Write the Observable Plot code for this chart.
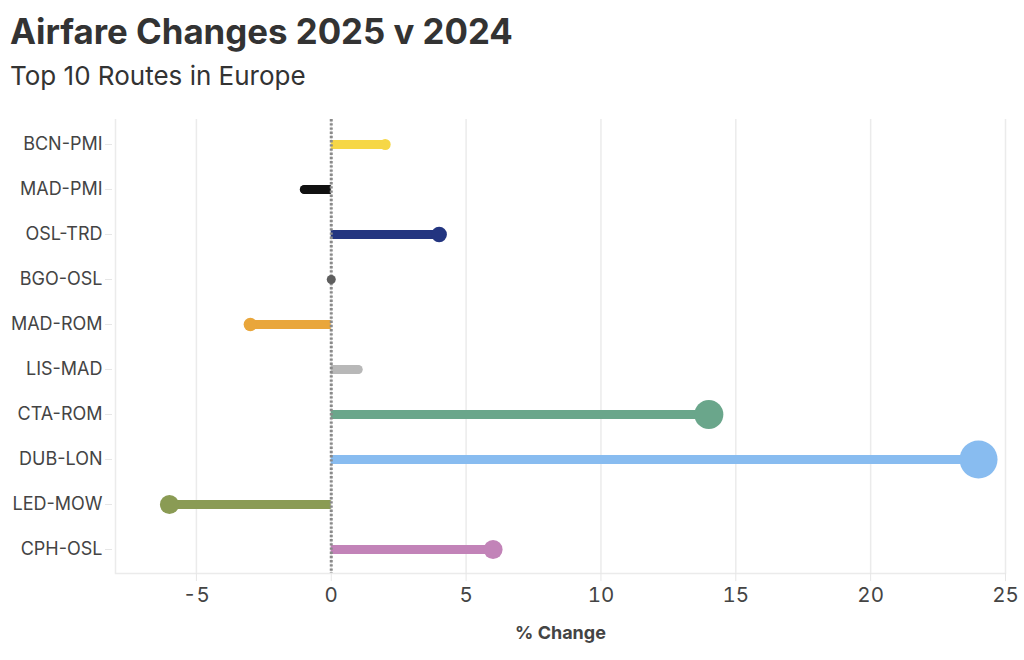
<!DOCTYPE html>
<html>
<head>
<meta charset="utf-8">
<script src="https://cdn.jsdelivr.net/npm/d3@7"></script>
<script src="https://cdn.jsdelivr.net/npm/@observablehq/plot@0.6"></script>
<style>
  html, body { margin: 0; padding: 0; background: #fff; }
  body { width: 1024px; height: 660px; overflow: hidden; font-family: Inter, "Noto Sans", sans-serif; }
  #head { height: 98px; position: relative; }
  #title { position: absolute; left: 10px; top: 11px; font-size: 34.8px; font-weight: 700; color: #333; line-height: 1.2; }
  #subtitle { position: absolute; left: 10px; top: 60px; font-size: 26px; font-weight: 400; color: #333; line-height: 1.2; }
  #chart svg { display: block; }
</style>
</head>
<body>
<div id="head">
  <div id="title">Airfare Changes 2025 v 2024</div>
  <div id="subtitle">Top 10 Routes in Europe</div>
</div>
<div id="chart"></div>
<script>
const routes = ["BCN-PMI", "MAD-PMI", "OSL-TRD", "BGO-OSL", "MAD-ROM", "LIS-MAD", "CTA-ROM", "DUB-LON", "LED-MOW", "CPH-OSL"];
const changes = [2, -1, 4, 0, -3, 1, 14, 24, -6, 6];
const routeColors = ["#f6d746", "#111111", "#233580", "#5e5e5e", "#e9a63b", "#b8b8b8", "#6aa68b", "#88bcf0", "#8a9b54", "#c283b8"];
const xTicks = [-5, 0, 5, 10, 15, 20, 25];

const data = routes.map((route, i) => ({route, value: changes[i]}));

const chart = Plot.plot({
  width: 1024,
  height: 562,
  marginLeft: 115,
  marginRight: 19,
  marginTop: 21,
  marginBottom: 87,
  style: {fontFamily: "Inter, 'Noto Sans', sans-serif", background: "#fff"},
  x: {domain: [-8, 25]},
  y: {type: "point", domain: routes, padding: 0.5},
  color: {domain: routes, range: routeColors},
  r: {domain: [0, 24], range: [0, 19]},
  marks: [
    Plot.gridX(xTicks, {stroke: "#ebebeb", strokeOpacity: 1, strokeWidth: 1.5}),
    Plot.ruleX([-8], {stroke: "#ebebeb", strokeWidth: 1.5}),
    Plot.frame({anchor: "bottom", stroke: "#ebebeb", strokeWidth: 1.5}),
    Plot.axisX(xTicks, {tickSize: 8, tickPadding: 6, stroke: "#e6e6e6", fill: "#444", fontSize: 20.5,
      tickFormat: d => String(d),
      label: "% Change", labelAnchor: "center", labelArrow: "none", labelOffset: 65}),
    Plot.axisY({tickSize: 7, tickPadding: 3, dx: -3, stroke: "#e6e6e6", fill: "#444", fontSize: 18, label: null}),
    Plot.ruleY(data, {y: "route", x1: 0, x2: "value", stroke: "route", strokeWidth: 9, strokeLinecap: "butt"}),
    Plot.ruleX([0], {stroke: "#8a8a8a", strokeWidth: 3, strokeDasharray: "2.4,1.8"}),
    Plot.dot(data, {y: "route", x: "value", fill: "route", r: 4.5}),
    Plot.dot(data, {y: "route", x: "value", fill: "route", r: d => Math.abs(d.value)})
  ]
});
document.getElementById("chart").appendChild(chart);
chart.querySelectorAll("[aria-label='x-axis label'] text").forEach(t => {
  t.setAttribute("font-weight", "700");
  t.setAttribute("font-size", "18");
  t.setAttribute("fill", "#444");
});
</script>
</body>
</html>
